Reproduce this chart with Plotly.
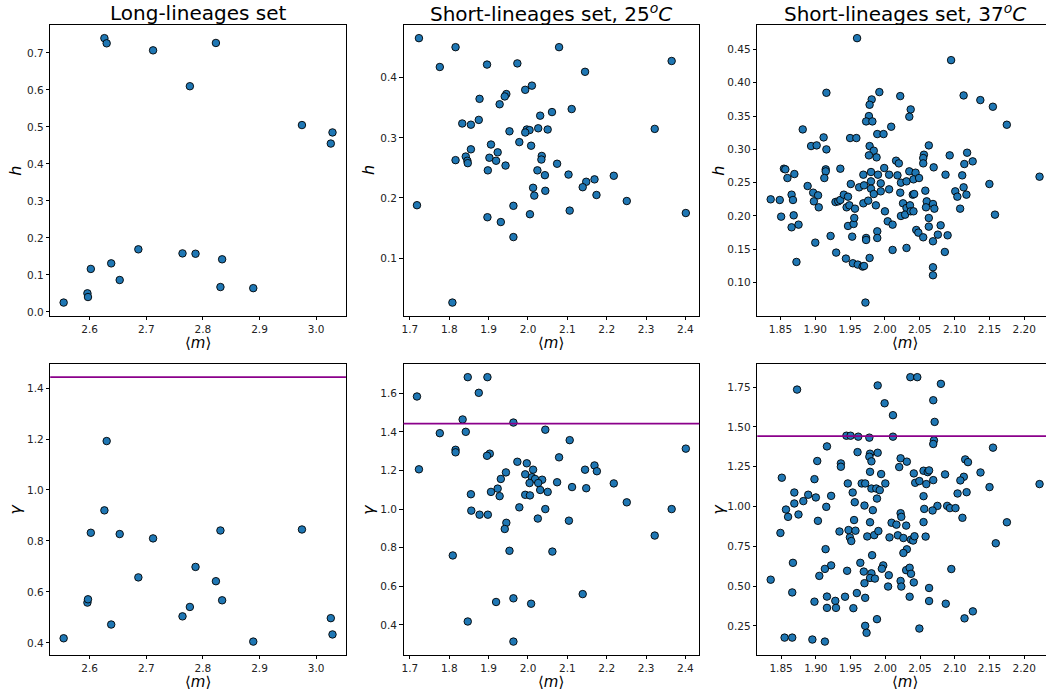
import plotly.graph_objects as go
from plotly.subplots import make_subplots

# ---------------- data ----------------
# Long-lineages set
long_m = [2.554, 2.596, 2.597, 2.602, 2.626, 2.630, 2.638, 2.653, 2.686, 2.712,
          2.764, 2.777, 2.787, 2.823, 2.831, 2.834, 2.889, 2.975, 3.026, 3.029]
long_h = [0.025, 0.050, 0.040, 0.116, 0.740, 0.726, 0.131, 0.086, 0.169, 0.707,
          0.158, 0.610, 0.157, 0.727, 0.067, 0.142, 0.064, 0.505, 0.455, 0.485]
long_gamma = [0.418, 0.558, 0.571, 0.832, 0.920, 1.192, 0.472, 0.827, 0.657, 0.810,
              0.504, 0.541, 0.698, 0.642, 0.841, 0.567, 0.405, 0.845, 0.497, 0.433]

# Short-lineages set, 25 C
s25_h_m = [1.723, 1.816, 1.776, 1.896, 1.973, 2.079, 2.365, 2.145, 2.010, 1.993,
           1.945, 1.941, 1.877, 1.928, 2.111, 2.061, 2.031, 1.875, 1.833, 1.855,
           2.322, 2.026, 2.050, 1.997, 2.004, 1.993, 1.953, 1.978, 1.906, 2.008,
           1.855, 1.923, 2.035, 2.034, 1.902, 1.842, 1.816, 1.846, 1.847, 1.919,
           2.074, 1.943, 1.898, 2.024, 2.103, 2.043, 2.218, 2.169, 2.148, 2.139,
           2.013, 2.044, 2.016, 2.174, 2.251, 1.718, 1.963, 2.106, 2.401, 2.005,
           1.897, 1.931, 1.963, 1.808]
s25_h = [0.466, 0.451, 0.418, 0.422, 0.424, 0.451, 0.428, 0.410, 0.387, 0.380,
         0.373, 0.369, 0.365, 0.356, 0.348, 0.343, 0.337, 0.330, 0.324, 0.322,
         0.315, 0.316, 0.314, 0.314, 0.313, 0.309, 0.311, 0.293, 0.289, 0.287,
         0.281, 0.276, 0.270, 0.264, 0.267, 0.269, 0.263, 0.262, 0.258, 0.262,
         0.257, 0.254, 0.246, 0.246, 0.239, 0.238, 0.237, 0.231, 0.227, 0.218,
         0.217, 0.212, 0.204, 0.205, 0.195, 0.188, 0.187, 0.179, 0.175, 0.173,
         0.168, 0.160, 0.135, 0.026]
s25_g_m = [1.718, 1.847, 1.897, 1.875, 1.834, 1.963, 2.044, 1.776, 1.842, 2.106,
           2.401, 1.816, 1.816, 1.903, 1.896, 2.079, 1.723, 1.973, 1.997, 2.169,
           2.013, 2.145, 2.175, 1.944, 1.993, 2.010, 2.018, 1.931, 2.036, 2.004,
           2.026, 2.074, 2.218, 1.923, 2.112, 2.148, 2.031, 1.906, 2.050, 1.855,
           1.928, 1.993, 2.005, 2.251, 1.978, 2.044, 2.365, 1.856, 1.877, 1.898,
           2.025, 2.104, 1.945, 1.941, 2.322, 1.953, 2.062, 1.809, 2.139, 1.963,
           1.919, 2.008, 1.847, 1.963]
s25_gamma = [1.583, 1.683, 1.683, 1.602, 1.464, 1.448, 1.411, 1.393, 1.400, 1.357,
             1.313, 1.307, 1.294, 1.287, 1.276, 1.268, 1.206, 1.245, 1.237, 1.226,
             1.204, 1.204, 1.196, 1.190, 1.180, 1.165, 1.156, 1.156, 1.152, 1.135,
             1.135, 1.139, 1.133, 1.106, 1.114, 1.108, 1.099, 1.089, 1.089, 1.077,
             1.067, 1.074, 1.071, 1.035, 1.009, 1.000, 1.000, 0.992, 0.971, 0.971,
             0.951, 0.940, 0.929, 0.897, 0.863, 0.784, 0.780, 0.760, 0.560, 0.538,
             0.519, 0.510, 0.418, 0.314]

# Short-lineages set, 37 C
s37_h_m = [1.960, 2.095, 1.916, 1.992, 2.113, 2.022, 2.137, 1.981, 2.155, 1.978,
           2.037, 2.035, 1.977, 1.973, 1.982, 2.175, 1.882, 2.009, 1.989, 1.998,
           1.950, 1.959, 1.912, 1.894, 1.902, 1.978, 2.063, 1.916, 1.984, 1.977,
           2.056, 2.093, 2.118, 1.988, 2.055, 2.016, 2.126, 2.020, 2.055, 2.114,
           2.070, 1.936, 1.999, 1.855, 1.857, 1.915, 1.915, 2.035, 1.980, 1.870,
           2.044, 1.969, 1.990, 2.006, 2.018, 2.087, 2.111, 2.222, 1.860, 1.913,
           1.836, 1.849, 1.851, 1.866, 1.868, 1.869, 1.866, 1.876, 1.873, 1.889,
           1.897, 1.904, 1.898, 1.905, 1.900, 1.922, 1.929, 1.933, 1.936, 1.941,
           1.947, 1.945, 1.949, 1.957, 1.951, 1.963, 1.970, 1.980, 1.980, 1.984,
           1.969, 1.976, 1.987, 1.994, 1.994, 2.006, 2.000, 2.004, 2.011, 2.011,
           2.023, 2.031, 2.041, 2.049, 2.022, 2.026, 2.031, 2.036, 2.040, 2.042,
           2.023, 2.029, 2.037, 2.041, 2.045, 2.048, 2.055, 2.031, 2.058, 2.060,
           2.059, 2.069, 2.071, 2.063, 2.063, 2.069, 2.069, 2.069, 2.080, 2.076,
           2.090, 2.086, 2.101, 2.104, 2.108, 2.113, 2.117, 2.150, 2.158, 1.947,
           1.955, 1.956, 1.953, 1.973, 1.973, 1.989, 1.989, 1.930, 1.944, 1.954,
           1.961, 1.968, 1.970, 1.978, 1.972]
s37_h = [0.467, 0.434, 0.385, 0.386, 0.381, 0.380, 0.374, 0.375, 0.364, 0.367,
         0.360, 0.349, 0.350, 0.342, 0.342, 0.337, 0.330, 0.334, 0.323, 0.323,
         0.317, 0.317, 0.318, 0.305, 0.306, 0.305, 0.306, 0.300, 0.298, 0.291,
         0.292, 0.291, 0.295, 0.288, 0.287, 0.283, 0.282, 0.279, 0.279, 0.278,
         0.273, 0.271, 0.272, 0.271, 0.270, 0.270, 0.267, 0.267, 0.266, 0.263,
         0.265, 0.262, 0.262, 0.262, 0.261, 0.262, 0.261, 0.259, 0.257, 0.257,
         0.225, 0.224, 0.199, 0.232, 0.224, 0.201, 0.183, 0.187, 0.131, 0.245,
         0.235, 0.231, 0.222, 0.213, 0.160, 0.170, 0.221, 0.222, 0.224, 0.232,
         0.229, 0.213, 0.216, 0.211, 0.248, 0.243, 0.246, 0.252, 0.241, 0.233,
         0.219, 0.223, 0.216, 0.249, 0.237, 0.240, 0.207, 0.192, 0.187, 0.149,
         0.250, 0.252, 0.255, 0.257, 0.235, 0.219, 0.212, 0.216, 0.232, 0.233,
         0.200, 0.202, 0.207, 0.207, 0.179, 0.175, 0.168, 0.152, 0.238, 0.222,
         0.213, 0.218, 0.211, 0.197, 0.184, 0.162, 0.123, 0.111, 0.186, 0.172,
         0.171, 0.146, 0.237, 0.229, 0.211, 0.243, 0.232, 0.248, 0.202, 0.185,
         0.188, 0.197, 0.169, 0.167, 0.164, 0.177, 0.167, 0.145, 0.136, 0.129,
         0.127, 0.124, 0.125, 0.137, 0.070]
s37_g_m = [1.873, 2.036, 2.046, 1.989, 2.080, 1.999, 2.069, 2.011, 2.071, 1.944,
           1.950, 1.961, 1.977, 2.011, 2.070, 2.069, 1.916, 2.155, 1.960, 1.989,
           1.978, 1.977, 1.902, 1.980, 2.022, 2.031, 1.936, 1.936, 2.020, 2.115,
           2.119, 1.851, 1.898, 1.994, 2.041, 2.055, 2.061, 2.063, 2.086, 2.137,
           1.946, 1.966, 1.971, 2.000, 2.043, 2.049, 2.059, 2.069, 2.113, 2.108,
           2.150, 2.222, 1.978, 1.980, 1.987, 1.992, 1.869, 1.889, 1.900, 1.922,
           1.953, 2.055, 2.104, 2.117, 1.882, 1.869, 1.956, 1.970, 1.988, 1.915,
           1.857, 1.982, 2.075, 2.089, 2.056, 2.068, 2.093, 2.101, 2.022, 2.023,
           1.860, 1.875, 2.111,
           1.903, 1.955, 1.978, 2.009, 2.016, 2.030, 2.055, 2.175, 1.849, 1.934,
           1.947, 1.957, 1.949, 1.951, 1.974, 1.984, 1.990, 2.006, 2.018, 2.026,
           2.037, 2.040, 2.042, 2.058, 2.031, 2.026, 1.914, 2.159, 1.867, 1.922,
           1.913, 1.905, 1.945, 1.964, 1.969, 1.981, 1.997, 1.995, 1.980, 1.978,
           1.985, 1.970, 2.005, 2.004, 2.030, 2.035, 2.037, 2.022, 2.023, 2.041,
           2.095, 1.835, 1.866, 1.898, 1.916, 1.916, 1.928, 1.929, 1.942, 1.954,
           1.959, 1.971, 2.035, 2.063, 2.063, 2.087, 2.114, 2.126, 1.988, 1.971,
           1.973, 2.049, 1.855, 1.866, 1.895, 1.913]
s37_gamma = [1.735, 1.813, 1.813, 1.761, 1.771, 1.649, 1.668, 1.574, 1.532, 1.445,
             1.445, 1.439, 1.433, 1.439, 1.416, 1.393, 1.378, 1.370, 1.342, 1.338,
             1.332, 1.313, 1.286, 1.284, 1.303, 1.282, 1.271, 1.250, 1.248, 1.296,
             1.279, 1.181, 1.172, 1.204, 1.208, 1.225, 1.216, 1.227, 1.202, 1.214,
             1.145, 1.145, 1.145, 1.145, 1.149, 1.160, 1.141, 1.166, 1.187, 1.164,
             1.122, 1.141, 1.218, 1.113, 1.113, 1.103, 1.088, 1.074, 1.057, 1.067,
             1.088, 1.065, 1.082, 1.090, 1.034, 1.019, 1.027, 1.006, 1.050, 0.998,
             0.981, 0.977, 1.004, 1.004, 0.985, 0.975, 0.990, 0.990, 0.958, 0.935,
             0.935, 0.950, 0.929,
             0.910, 0.915, 0.901, 0.898, 0.886, 0.880, 0.902, 0.901, 0.834, 0.843,
             0.852, 0.848, 0.806, 0.783, 0.812, 0.820, 0.846, 0.806, 0.819, 0.802,
             0.792, 0.786, 0.813, 0.811, 0.731, 0.708, 0.732, 0.769, 0.646, 0.630,
             0.608, 0.564, 0.596, 0.646, 0.591, 0.694, 0.630, 0.609, 0.580, 0.551,
             0.547, 0.518, 0.568, 0.497, 0.600, 0.615, 0.577, 0.532, 0.497, 0.523,
             0.607, 0.540, 0.460, 0.402, 0.434, 0.363, 0.407, 0.363, 0.433, 0.361,
             0.456, 0.426, 0.433, 0.488, 0.406, 0.389, 0.297, 0.341, 0.292, 0.250,
             0.206, 0.233, 0.176, 0.176, 0.164, 0.151]

# reference level drawn on the gamma panels
gamma_ref = 1.4427

panel_titles = ["Long-lineages set",
                "Short-lineages set, 25<sup><i>o</i></sup><i>C</i>",
                "Short-lineages set, 37<sup><i>o</i></sup><i>C</i>"]

# ---------------- figure ----------------
W, H = 1046, 695
FONT = "DejaVu Sans"
BLUE = "#1f77b4"

fig = make_subplots(rows=2, cols=3)

panels = [
    (1, 1, long_m, long_h, "h", None, 0.1, ".1f"),
    (1, 2, s25_h_m, s25_h, "h", None, 0.1, ".1f"),
    (1, 3, s37_h_m, s37_h, "h", None, 0.05, ".2f"),
    (2, 1, long_m, long_gamma, "γ", gamma_ref, 0.2, ".1f"),
    (2, 2, s25_g_m, s25_gamma, "γ", gamma_ref, 0.2, ".1f"),
    (2, 3, s37_g_m, s37_gamma, "γ", gamma_ref, 0.25, ".2f"),
]
x_ticks = {1: (0.1, ".1f"), 2: (0.1, ".1f"), 3: (0.05, ".2f")}

# panel frames in pixels (left, top, width, height)
col_left = {1: 48.3, 2: 402.3, 3: 756.7}
row_top = {1: 25.0, 2: 365.0}
PW, PH = 296.3, 291.7


def padded(vals, frac=0.05):
    lo, hi = min(vals), max(vals)
    d = (hi - lo) * frac
    return lo - d, hi + d


annotations = []
shapes = []
for i, (r, c, xs, ys, ylab, ref, ydt, yfmt) in enumerate(panels):
    idx = i + 1
    fig.add_trace(go.Scatter(
        x=xs, y=ys, mode="markers",
        marker=dict(size=7.5, color=BLUE, line=dict(color="black", width=0.9)),
        showlegend=False, cliponaxis=True,
    ), row=r, col=c)

    x0p = col_left[c]
    x1p = min(x0p + PW, W)
    y0p = row_top[r]
    y1p = y0p + PH

    xlo, xhi = padded(xs)
    # right column is cut by the page edge
    xhi_vis = xlo + (xhi - xlo) * (x1p - x0p) / PW
    yvals = list(ys) + ([ref] if ref is not None else [])
    ylo, yhi = padded(yvals)

    xa = "xaxis" if idx == 1 else f"xaxis{idx}"
    ya = "yaxis" if idx == 1 else f"yaxis{idx}"
    xdt, xfmt = x_ticks[c]
    fig.layout[xa].update(
        domain=[x0p / W, x1p / W], range=[xlo, xhi_vis],
        showline=True, linecolor="black", linewidth=0.9, mirror=True,
        ticks="outside", ticklen=3.5, tickwidth=0.8, tickcolor="black",
        dtick=xdt, tick0=0, tickformat=xfmt,
        tickfont=dict(family=FONT, size=10.5, color="#222"),
        showgrid=False, zeroline=False,
    )
    fig.layout[ya].update(
        domain=[1 - y1p / H, 1 - y0p / H], range=[ylo, yhi],
        showline=True, linecolor="black", linewidth=0.9, mirror=(c != 3),
        ticks="outside", ticklen=3.5, tickwidth=0.8, tickcolor="black",
        dtick=ydt, tick0=0, tickformat=yfmt,
        tickfont=dict(family=FONT, size=10.5, color="#222"),
        showgrid=False, zeroline=False,
    )

    xref = "x" if idx == 1 else f"x{idx}"
    yref = "y" if idx == 1 else f"y{idx}"

    if ref is not None:
        shapes.append(dict(type="line", xref=f"{xref} domain", x0=0, x1=1,
                           yref=yref, y0=ref, y1=ref,
                           line=dict(color="#8b008b", width=1.6)))

    # axis labels
    annotations.append(dict(
        text="⟨<i>m</i>⟩", xref="paper", yref="paper",
        x=(x0p + PW / 2) / W, y=1 - (y1p + 27) / H,
        xanchor="center", yanchor="middle", showarrow=False,
        font=dict(family=FONT, size=15, color="black")))
    ylab_shift = 39 if c == 3 else 35
    annotations.append(dict(
        text=f"<i>{ylab}</i>", xref="paper", yref="paper",
        x=(x0p - ylab_shift) / W, y=1 - (y0p + PH / 2) / H,
        xanchor="center", yanchor="middle", textangle=-90, showarrow=False,
        font=dict(family=FONT, size=16, color="black")))

    if r == 1:
        annotations.append(dict(
            text=panel_titles[c - 1], xref="paper", yref="paper",
            x=(x0p + PW / 2) / W, y=1 - 13.5 / H,
            xanchor="center", yanchor="middle", showarrow=False,
            font=dict(family=FONT, size=20, color="black")))

fig.update_layout(
    width=W, height=H,
    margin=dict(l=0, r=0, t=0, b=0),
    paper_bgcolor="white", plot_bgcolor="white",
    annotations=annotations, shapes=shapes,
    font=dict(family=FONT),
)

fig.write_html("out.html")
